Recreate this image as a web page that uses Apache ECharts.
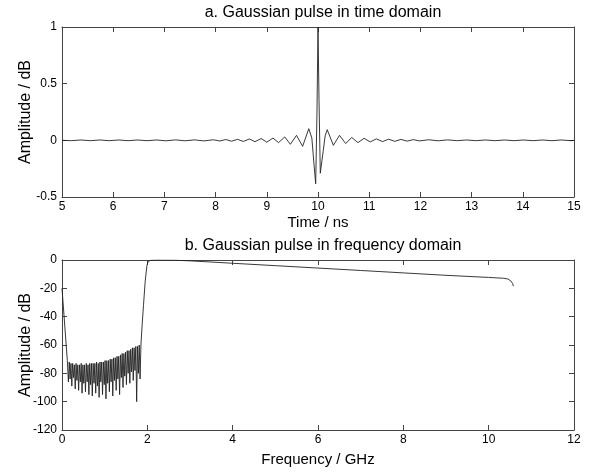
<!DOCTYPE html>
<html>
<head>
<meta charset="utf-8">
<script src="https://cdn.jsdelivr.net/npm/echarts@6/dist/echarts.min.js"></script>
<style>
  html, body { margin: 0; padding: 0; background: #fff; }
  #chart { width: 590px; height: 472px; }
</style>
</head>
<body>
<div id="chart"></div>
<script>
// a. time domain pulse (ns, amplitude)
const timeNs = [5.0, 5.18, 5.37, 5.55, 5.74, 5.92, 6.11, 6.29, 6.48, 6.66, 6.85, 7.03, 7.22, 7.40, 7.59, 7.77, 7.96,
  8.08, 8.20, 8.31, 8.43, 8.54, 8.66, 8.77, 8.89, 9.00, 9.12, 9.23, 9.35, 9.46, 9.58, 9.70, 9.82,
  9.88, 9.92, 9.955, 9.98, 10.0, 10.02, 10.045, 10.10, 10.14, 10.18,
  10.30, 10.42, 10.54, 10.66, 10.78, 10.90, 11.02, 11.14, 11.26, 11.38, 11.50, 11.62, 11.74, 11.86, 11.98,
  12.16, 12.35, 12.53, 12.72, 12.90, 13.09, 13.27, 13.46, 13.64, 13.83, 14.01, 14.20, 14.38, 14.57, 14.75, 14.94, 15.0];
const pulseAmp = [0, -0.003, 0.003, -0.003, 0.003, -0.003, 0.003, -0.003, 0.003, -0.003, 0.003, -0.004, 0.004, -0.004, 0.004, -0.005, 0.005,
  -0.006, 0.007, -0.008, 0.009, -0.010, 0.012, -0.012, 0.016, -0.016, 0.020, -0.020, 0.030, -0.035, 0.044, -0.053, 0.103,
  0.02, -0.2, -0.383, 0.25, 1.0, 0.35, -0.29, -0.1, 0.04, 0.094,
  -0.044, 0.044, -0.028, 0.025, -0.020, 0.018, -0.014, 0.013, -0.011, 0.010, -0.009, 0.008, -0.007, 0.006, -0.005,
  0.005, -0.004, 0.004, -0.003, 0.003, -0.003, 0.003, -0.003, 0.003, -0.003, 0.003, -0.003, 0.003, -0.003, 0.003, -0.003, 0];

// b. frequency domain (GHz, dB)
const lowEdge = [[0, -20], [0.125, -71]];
// stop band ripple: alternating upper / lower points
const stopBand = [
  [0.13, -71], [0.15, -86], [0.17, -72], [0.19, -84], [0.21, -73], [0.23, -89], [0.25, -73], [0.27, -83],
  [0.29, -74], [0.31, -91], [0.33, -73], [0.35, -85], [0.37, -74], [0.39, -92], [0.41, -74], [0.43, -86],
  [0.45, -73], [0.47, -94], [0.49, -74], [0.51, -87], [0.53, -74], [0.55, -93], [0.57, -73], [0.59, -86],
  [0.61, -74], [0.63, -95], [0.65, -73], [0.67, -88], [0.69, -73], [0.71, -96], [0.73, -73], [0.75, -87],
  [0.77, -73], [0.79, -94], [0.81, -72], [0.83, -89], [0.85, -73], [0.87, -97], [0.89, -72], [0.91, -86],
  [0.93, -72], [0.95, -95], [0.97, -72], [0.99, -88], [1.01, -71], [1.03, -98], [1.05, -71], [1.07, -87],
  [1.09, -71], [1.11, -93], [1.13, -70], [1.15, -86], [1.17, -70], [1.19, -96], [1.21, -69], [1.23, -85],
  [1.25, -69], [1.27, -92], [1.29, -68], [1.31, -84], [1.33, -68], [1.35, -95], [1.37, -67], [1.39, -83],
  [1.41, -66], [1.43, -90], [1.45, -66], [1.47, -82], [1.49, -65], [1.51, -88], [1.53, -64], [1.55, -80],
  [1.57, -64], [1.59, -87], [1.61, -63], [1.63, -79], [1.65, -62], [1.67, -85], [1.69, -62], [1.71, -78],
  [1.73, -61], [1.75, -100], [1.77, -61], [1.79, -80], [1.81, -60], [1.83, -84], [1.85, -60]];
const passBand = [[1.88, -45], [1.91, -32], [1.95, -15], [1.99, -4], [2.02, -1], [2.08, -0.2], [2.2, 0],
  [2.6, -0.1], [3, -0.6], [4, -2.3], [5, -4], [6, -5.7], [7, -7.4], [8, -9.1], [9, -10.8], [10, -12.3],
  [10.35, -12.9], [10.45, -13.4], [10.52, -14.8], [10.56, -16.5], [10.58, -18.5]];

const freqCurve = lowEdge.concat(stopBand, passBand);
const timeCurve = timeNs.map((t, i) => [t, pulseAmp[i]]);

const font = 'Liberation Sans, Arial, sans-serif';
const frame = '#444';

// axis helpers: main axis with labels, mirror axis for the box
const xAx = (grid, min, max, step, name, gap, mirror) => ({
  type: 'value', gridIndex: grid, min: min, max: max, interval: step,
  position: mirror ? 'top' : 'bottom',
  name: mirror ? '' : name, nameLocation: 'middle', nameGap: gap, nameMoveOverlap: false,
  nameTextStyle: { fontFamily: font, fontSize: 15, color: '#000' },
  axisLine: { show: true, onZero: false, lineStyle: { color: frame, width: 1 } },
  axisTick: { show: true, inside: true, length: 5, lineStyle: { color: frame } },
  axisLabel: { show: !mirror, margin: 4, fontFamily: font, fontSize: 12, color: '#000' },
  splitLine: { show: false }
});
const yAx = (grid, min, max, step, name, mirror) => ({
  type: 'value', gridIndex: grid, min: min, max: max, interval: step,
  position: mirror ? 'right' : 'left',
  name: mirror ? '' : name, nameLocation: 'middle', nameGap: 28, nameMoveOverlap: false,
  nameTextStyle: { fontFamily: font, fontSize: 16, color: '#000' },
  axisLine: { show: true, onZero: false, lineStyle: { color: frame, width: 1 } },
  axisTick: { show: true, inside: true, length: 5, lineStyle: { color: frame } },
  axisLabel: { show: !mirror, margin: 5, fontFamily: font, fontSize: 12, color: '#000' },
  splitLine: { show: false }
});

const chart = echarts.init(document.getElementById('chart'));
chart.setOption({
  animation: false,
  title: [
    { text: 'a. Gaussian pulse in time domain', left: 318, top: 0, textAlign: 'center',
      textStyle: { fontFamily: font, fontSize: 16, fontWeight: 'normal', color: '#000' } },
    { text: 'b. Gaussian pulse in frequency domain', left: 318, top: 233, textAlign: 'center',
      textStyle: { fontFamily: font, fontSize: 16, fontWeight: 'normal', color: '#000' } }
  ],
  grid: [
    { left: 62, right: 16, top: 27, height: 170 },
    { left: 62, right: 16, top: 260, height: 170 }
  ],
  xAxis: [
    xAx(0, 5, 15, 1, 'Time / ns', 18, false),
    xAx(0, 5, 15, 1, '', 0, true),
    xAx(1, 0, 12, 2, 'Frequency / GHz', 22, false),
    xAx(1, 0, 12, 2, '', 0, true)
  ],
  yAxis: [
    yAx(0, -0.5, 1, 0.5, 'Amplitude / dB', false),
    yAx(0, -0.5, 1, 0.5, '', true),
    yAx(1, -120, 0, 20, 'Amplitude / dB', false),
    yAx(1, -120, 0, 20, '', true)
  ],
  series: [
    { type: 'line', xAxisIndex: 0, yAxisIndex: 0, data: timeCurve, showSymbol: false,
      lineStyle: { color: '#222', width: 0.9 } },
    { type: 'line', xAxisIndex: 2, yAxisIndex: 2, data: freqCurve, showSymbol: false,
      lineStyle: { color: '#222', width: 0.9 } }
  ]
});
</script>
</body>
</html>
